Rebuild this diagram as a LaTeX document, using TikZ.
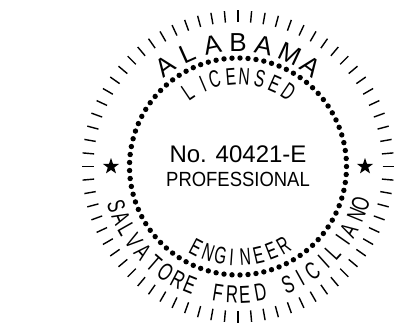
\documentclass[tikz,border=0pt]{standalone}
\usepackage{fontspec}
\setmainfont{Liberation Sans}
\usetikzlibrary{calc,shapes.geometric}

\tikzset{
  tick/.style={line width=1.4pt},
  sealdot/.style={fill=black},
  bigletter/.style={inner sep=0pt, font=\fontsize{26}{26}\selectfont},
  narrowletter/.style={inner sep=0pt, xscale=0.64, font=\fontsize{24}{24}\selectfont},
  nameletter/.style={inner sep=0pt, xscale=0.68, font=\fontsize{24.5}{24.5}\selectfont},
  sealstar/.style={star, star points=5, star point ratio=2.5, fill=black, inner sep=0pt, minimum size=17pt}
}

\begin{document}
\begin{tikzpicture}[x=1pt, y=1pt]
  \useasboundingbox (0,0) rectangle (403,324);
  \coordinate (center) at (238,157.5);

  % Draw the outer ticks
  \foreach \a in {0,5,...,355}
    \draw[tick] ($(center)+(\a:144.5)$) -- ($(center)+(\a:156)$);

  % Draw the dotted ring
  \foreach \i in {1,...,85}
    \fill[sealdot] ($(center)+(\i*4.23529:108.5)$) circle (2.7);

  % Letters along the top
  \foreach \a/\t [count=\i] in {36/A,24/L,12/A,0/B,-12/A,-25/M,-36/A}
    \node[rotate=\a, bigletter] (state\i) at ($(center)+(90+\a:124)$) {\t};
  \foreach \a/\t [count=\i] in {34/L,23/I,15/C,4.5/E,-4/N,-14/S,-24/E,-34/D}
    \node[rotate=\a, narrowletter] (licensed\i) at ($(center)+(90+\a:90)$) {\t};

  % Letters along the bottom
  \foreach \a/\t [count=\i] in {27.5/E,19/N,11/G,4/I,-4.5/N,-13/E,-21.5/E,-30/R}
    \node[rotate=-\a, narrowletter] (engineer\i) at ($(center)+(270-\a:91)$) {\t};
  \foreach \a/\t [count=\i] in {72/S,66/A,60.5/L,54.5/V,48/A,41/T,34.5/O,28/R,22/E,9/F,2.7/R,-3/E,-10/D,-23/S,-29/I,-35.5/C,-42/I,-47.7/L,-55/I,-60/A,-67.7/N,-73/O}
    \node[rotate=-\a, nameletter] (name\i) at ($(center)+(270-\a:128)$) {\t};

  % Stars and the two middle lines
  \node[sealstar] (leftstar) at ($(center)+(-127,0)$) {};
  \node[sealstar] (rightstar) at ($(center)+(127,0)$) {};
  \node[anchor=base, inner sep=0pt, font=\fontsize{24}{24}\selectfont] (number) at (238,161) {No. 40421-E};
  \node[anchor=base, inner sep=0pt, xscale=0.9, font=\fontsize{20.5}{20.5}\selectfont] (title) at (238,137.5) {PROFESSIONAL};
\end{tikzpicture}
\end{document}
